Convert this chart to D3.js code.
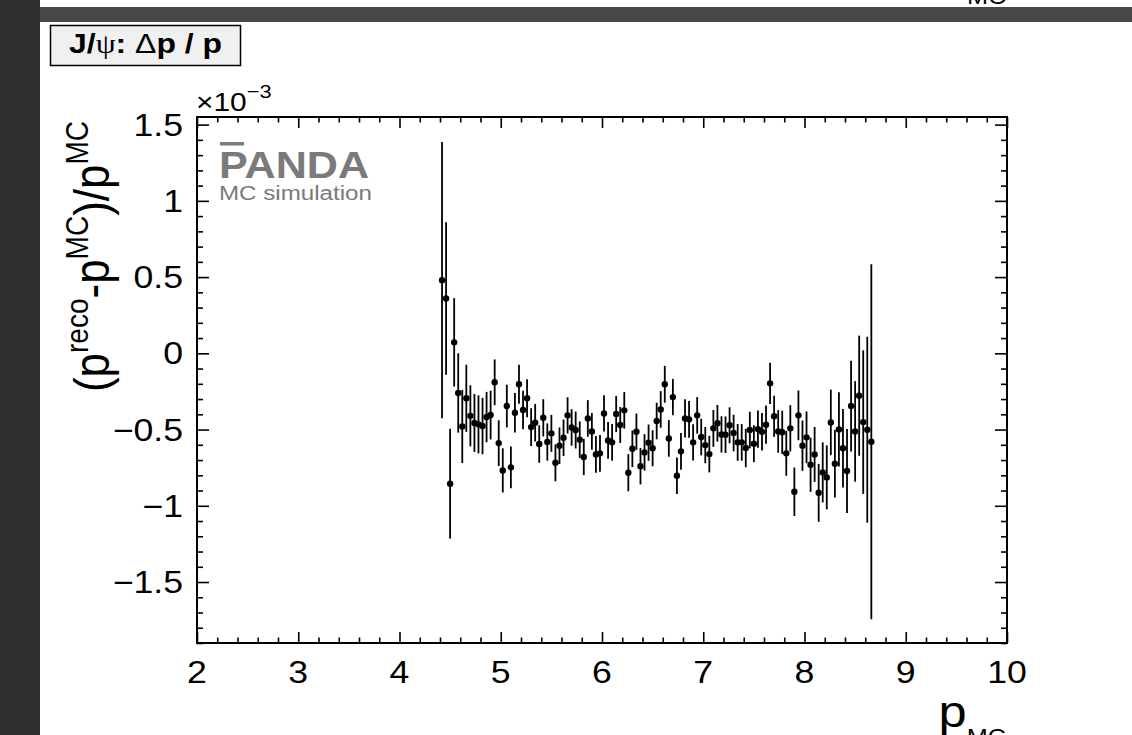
<!DOCTYPE html>
<html>
<head>
<meta charset="utf-8">
<script src="https://cdn.jsdelivr.net/npm/d3@7"></script>
<style>
  body { margin: 0; background: #fff; }
  svg { display: block; }
  text { font-family: "Liberation Sans", Arial, Helvetica, sans-serif; }
</style>
</head>
<body>
<div id="chart"></div>
<script>
// bin centres of p_MC (GeV/c)
var pBins = [4.42,4.46,4.50,4.54,4.58,4.62,4.66,4.70,4.74,4.78,
  4.82,4.86,4.90,4.94,4.98,5.02,5.06,5.10,5.14,5.18,
  5.22,5.26,5.30,5.34,5.38,5.42,5.46,5.50,5.54,5.58,
  5.62,5.66,5.70,5.74,5.78,5.82,5.86,5.90,5.94,5.98,
  6.02,6.06,6.10,6.14,6.18,6.22,6.26,6.30,6.34,6.38,
  6.42,6.46,6.50,6.54,6.58,6.62,6.66,6.70,6.74,6.78,
  6.82,6.86,6.90,6.94,6.98,7.02,7.06,7.10,7.14,7.18,
  7.22,7.26,7.30,7.34,7.38,7.42,7.46,7.50,7.54,7.58,
  7.62,7.66,7.70,7.74,7.78,7.82,7.86,7.90,7.94,7.98,
  8.02,8.06,8.10,8.14,8.18,8.22,8.26,8.30,8.34,8.38,
  8.42,8.46,8.50,8.54,8.58,8.62,8.66];

// mean of (p_reco - p_MC)/p_MC, in units of 1e-3
var dpMean = [0.48,0.36,-0.855,0.072,-0.26,-0.48,-0.295,-0.41,-0.457,-0.466,
  -0.477,-0.418,-0.405,-0.19,-0.589,-0.768,-0.346,-0.748,-0.39,-0.203,
  -0.372,-0.295,-0.484,-0.455,-0.595,-0.423,-0.582,-0.525,-0.718,-0.606,
  -0.554,-0.407,-0.486,-0.503,-0.567,-0.68,-0.427,-0.512,-0.663,-0.656,
  -0.394,-0.571,-0.584,-0.398,-0.47,-0.374,-0.783,-0.626,-0.514,-0.74,
  -0.65,-0.586,-0.623,-0.444,-0.368,-0.203,-0.558,-0.287,-0.803,-0.643,
  -0.427,-0.433,-0.584,-0.407,-0.549,-0.602,-0.661,-0.492,-0.459,-0.532,
  -0.534,-0.472,-0.523,-0.584,-0.584,-0.621,-0.503,-0.593,-0.497,-0.514,
  -0.468,-0.197,-0.413,-0.512,-0.518,-0.656,-0.492,-0.908,-0.407,-0.606,
  -0.551,-0.731,-0.663,-0.915,-0.781,-0.814,-0.453,-0.724,-0.499,-0.623,
  -0.772,-0.346,-0.512,-0.278,-0.451,-0.501,-0.58];

// error on the mean, same units
var dpErr = [0.906,0.50,0.36,0.29,0.26,0.24,0.22,0.20,0.19,0.19,
  0.185,0.165,0.16,0.15,0.15,0.145,0.14,0.137,0.13,0.128,
  0.126,0.125,0.124,0.123,0.123,0.122,0.122,0.121,0.121,0.12,
  0.12,0.119,0.12,0.121,0.12,0.119,0.12,0.12,0.121,0.12,
  0.119,0.12,0.12,0.119,0.118,0.12,0.122,0.12,0.119,0.12,
  0.12,0.119,0.118,0.12,0.12,0.121,0.12,0.119,0.12,0.12,
  0.125,0.12,0.119,0.12,0.12,0.119,0.12,0.121,0.12,0.119,
  0.12,0.118,0.12,0.121,0.12,0.126,0.12,0.121,0.122,0.123,
  0.125,0.135,0.135,0.14,0.142,0.147,0.152,0.159,0.163,0.165,
  0.17,0.178,0.18,0.19,0.197,0.21,0.215,0.222,0.244,0.257,
  0.276,0.298,0.33,0.394,0.471,0.61,1.164];

var xTicks = [2,3,4,5,6,7,8,9,10];
var yTicks = [-1.5,-1,-0.5,0,0.5,1,1.5];
var yTickLabels = ["\u22121.5","\u22121","\u22120.5","0","0.5","1","1.5"];

var width = 1132, height = 735;
var frame = {left: 197, right: 1007, top: 117, bottom: 643};
var stretch = 1.15;

var svg = d3.select('#chart').append('svg')
    .attr('width', width)
    .attr('height', height);

// dark canvas border around the pad
svg.append('rect').attr('x',0).attr('y',0).attr('width',40).attr('height',height).attr('fill','#303030');
svg.append('rect').attr('x',40).attr('y',7).attr('width',width-40).attr('height',15).attr('fill','#474747');

// tail of the x title of the pad above
svg.append('g').attr('transform','translate(967,4) scale(' + stretch + ',1)')
  .append('text').attr('font-size',22).text('MC');

var x = d3.scaleLinear().domain([2,10]).range([frame.left, frame.right]);
var y = d3.scaleLinear().domain([-1.9,1.55]).range([frame.bottom, frame.top]);

var xMinor = d3.range(2, 10.001, 0.2).filter(function(d){ return Math.abs(d - Math.round(d)) > 0.01; });
var yMinor = d3.range(-1.9, 1.551, 0.1).filter(function(d){ return Math.abs(d*2 - Math.round(d*2)) > 0.01; });

function tickAxis(axis, vals, size, tr) {
  var g = svg.append('g').attr('transform', tr)
    .call(axis.tickValues(vals).tickSizeInner(-size).tickSizeOuter(0).tickFormat(''));
  g.select('.domain').remove();
  g.selectAll('line').attr('stroke','#000').attr('stroke-width',1.6);
}
tickAxis(d3.axisBottom(x), xTicks, 11, 'translate(0,' + frame.bottom + ')');
tickAxis(d3.axisBottom(x), xMinor, 5.5, 'translate(0,' + frame.bottom + ')');
tickAxis(d3.axisTop(x), xTicks, 11, 'translate(0,' + frame.top + ')');
tickAxis(d3.axisTop(x), xMinor, 5.5, 'translate(0,' + frame.top + ')');
tickAxis(d3.axisLeft(y), yTicks, 12, 'translate(' + frame.left + ',0)');
tickAxis(d3.axisLeft(y), yMinor, 6, 'translate(' + frame.left + ',0)');
tickAxis(d3.axisRight(y), yTicks, 12, 'translate(' + frame.right + ',0)');
tickAxis(d3.axisRight(y), yMinor, 6, 'translate(' + frame.right + ',0)');

svg.append('rect')
    .attr('x', frame.left).attr('y', frame.top)
    .attr('width', frame.right - frame.left).attr('height', frame.bottom - frame.top)
    .attr('fill','none').attr('stroke','#000').attr('stroke-width',2);

// tick labels
svg.selectAll('g.xlab').data(xTicks).enter().append('g')
    .attr('class','xlab')
    .attr('transform', function(d){ return 'translate(' + x(d) + ',683) scale(' + stretch + ',1)'; })
  .append('text')
    .attr('text-anchor','middle').attr('font-size',31)
    .text(function(d){ return d; });

svg.selectAll('g.ylab').data(yTicks).enter().append('g')
    .attr('class','ylab')
    .attr('transform', function(d){ return 'translate(183,' + y(d) + ') scale(' + stretch + ',1)'; })
  .append('text')
    .attr('text-anchor','end').attr('dy','0.36em').attr('font-size',31)
    .text(function(d,i){ return yTickLabels[i]; });

// exponent
var ex = svg.append('g').attr('transform','translate(196,111) scale(' + stretch + ',1)').append('text').attr('font-size',26);
ex.append('tspan').text('\u00d710');
ex.append('tspan').attr('font-size',19).attr('dy',-13).text('\u22123');

// axis titles
var yt = svg.append('g').attr('transform','translate(109,121) rotate(-90) scale(1,' + stretch + ')')
  .append('text').attr('text-anchor','end').attr('font-size',44);
yt.append('tspan').text('(p');
yt.append('tspan').attr('font-size',28).attr('dy',-18).text('reco');
yt.append('tspan').attr('dy',18).text('-p');
yt.append('tspan').attr('font-size',28).attr('dy',-18).text('MC');
yt.append('tspan').attr('dy',18).text(')/p');
yt.append('tspan').attr('font-size',28).attr('dy',-18).text('MC');

var xt = svg.append('g').attr('transform','translate(1006,727) scale(' + stretch + ',1)')
  .append('text').attr('text-anchor','end').attr('font-size',44);
xt.append('tspan').text('p');
xt.append('tspan').attr('font-size',22).attr('dy',17).text('MC');

// title box
svg.append('rect').attr('x',50.5).attr('y',25.5).attr('width',190).attr('height',40)
    .attr('fill','#f0f0f0').attr('stroke','#000').attr('stroke-width',1.5);
var tt = svg.append('g').attr('transform','translate(69,53) scale(1.14,1)')
  .append('text').attr('font-size',28).attr('font-weight','bold');
tt.append('tspan').text('J/');
tt.append('tspan').attr('font-family','"Liberation Serif", "DejaVu Serif", serif').attr('font-weight','normal').text('\u03c8');
tt.append('tspan').text(': ');
tt.append('tspan').attr('font-weight','normal').text('\u0394');
tt.append('tspan').text('p / p');

// PANDA logo
svg.append('g').attr('transform','translate(219,178) scale(' + stretch + ',1)')
  .append('text').attr('font-size',37.5).attr('font-weight','bold').attr('fill','#7a7a7a').text('PANDA');
svg.append('rect').attr('x',220).attr('y',142).attr('width',24).attr('height',3.5).attr('fill','#7a7a7a');
svg.append('g').attr('transform','translate(219,200) scale(' + stretch + ',1)')
  .append('text').attr('font-size',21).attr('fill','#7a7a7a').text('MC simulation');

// data points with error bars
var pts = pBins.map(function(p,i){ return {p: p, v: dpMean[i], e: dpErr[i]}; });

svg.append('g').selectAll('line').data(pts).enter().append('line')
    .attr('x1', function(d){ return x(d.p); })
    .attr('x2', function(d){ return x(d.p); })
    .attr('y1', function(d){ return y(d.v + d.e); })
    .attr('y2', function(d){ return y(d.v - d.e); })
    .attr('stroke','#000').attr('stroke-width',1.8);

svg.append('g').selectAll('circle').data(pts).enter().append('circle')
    .attr('cx', function(d){ return x(d.p); })
    .attr('cy', function(d){ return y(d.v); })
    .attr('r', 3.2)
    .attr('fill','#000');
</script>
</body>
</html>
